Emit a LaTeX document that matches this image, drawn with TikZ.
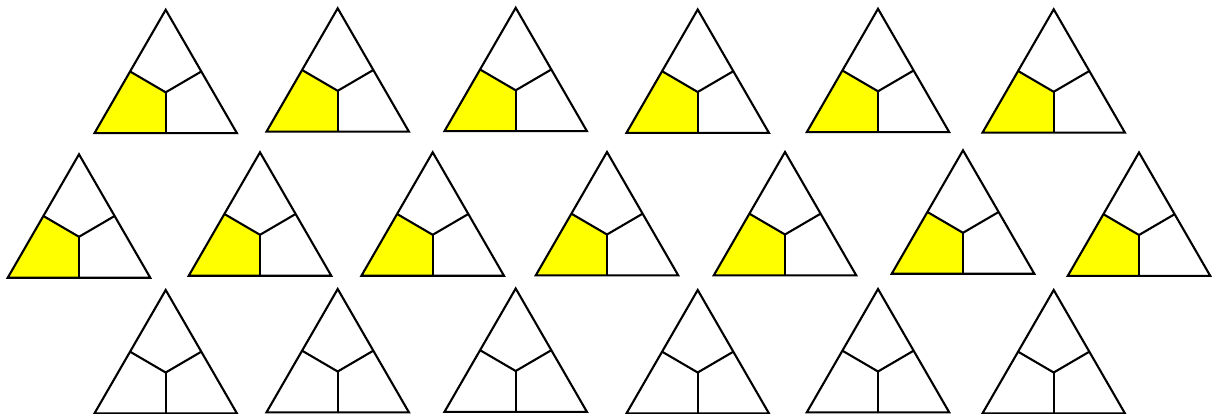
\documentclass[tikz,border=0pt]{standalone}
\definecolor{pureyellow}{RGB}{255,255,0}
\tikzset{
  edge/.style={line width=2.1pt, black, line join=miter},
  region/.style={fill=pureyellow},
  blank/.style={},
}
\newcommand\tritile[4]{%
  \coordinate (#1-A) at (#2,#3);
  \coordinate (#1-L) at ([shift={(-71.25,123.4)}]#1-A);
  \coordinate (#1-R) at ([shift={(71.25,123.4)}]#1-A);
  \coordinate (#1-ML) at ([shift={(-35.6,61.7)}]#1-A);
  \coordinate (#1-MR) at ([shift={(35.6,61.7)}]#1-A);
  \coordinate (#1-MB) at ([shift={(0,123.4)}]#1-A);
  \coordinate (#1-C) at ([shift={(0,82.5)}]#1-A);
  \path[#4] (#1-L) -- (#1-MB) -- (#1-C) -- (#1-ML) -- cycle;
  \draw[edge] (#1-A) -- (#1-R) -- (#1-L) -- cycle;
  \draw[edge] (#1-ML) -- (#1-C) -- (#1-MR);
  \draw[edge] (#1-C) -- (#1-MB);
}
\begin{document}
\begin{tikzpicture}[x=1pt,y=-1pt]
\useasboundingbox (0,0) rectangle (1214,414);
% row 1
\tritile{a1}{165.7}{9.8}{region}
\tritile{a2}{337.7}{8.3}{region}
\tritile{a3}{515.7}{7.8}{region}
\tritile{a4}{697.7}{9.5}{region}
\tritile{a5}{878.0}{8.8}{region}
\tritile{a6}{1053.7}{9.3}{region}
% row 2
\tritile{b1}{79.0}{154.3}{region}
\tritile{b2}{260.0}{152.3}{region}
\tritile{b3}{432.7}{152.3}{region}
\tritile{b4}{607.0}{152.0}{region}
\tritile{b5}{785.0}{152.0}{region}
\tritile{b6}{963.0}{150.3}{region}
\tritile{b7}{1139.0}{152.5}{region}
% row 3
\tritile{c1}{165.7}{290.0}{blank}
\tritile{c2}{337.7}{289.0}{blank}
\tritile{c3}{515.7}{288.5}{blank}
\tritile{c4}{697.7}{290.0}{blank}
\tritile{c5}{878.0}{289.0}{blank}
\tritile{c6}{1053.7}{290.0}{blank}
\end{tikzpicture}
\end{document}
